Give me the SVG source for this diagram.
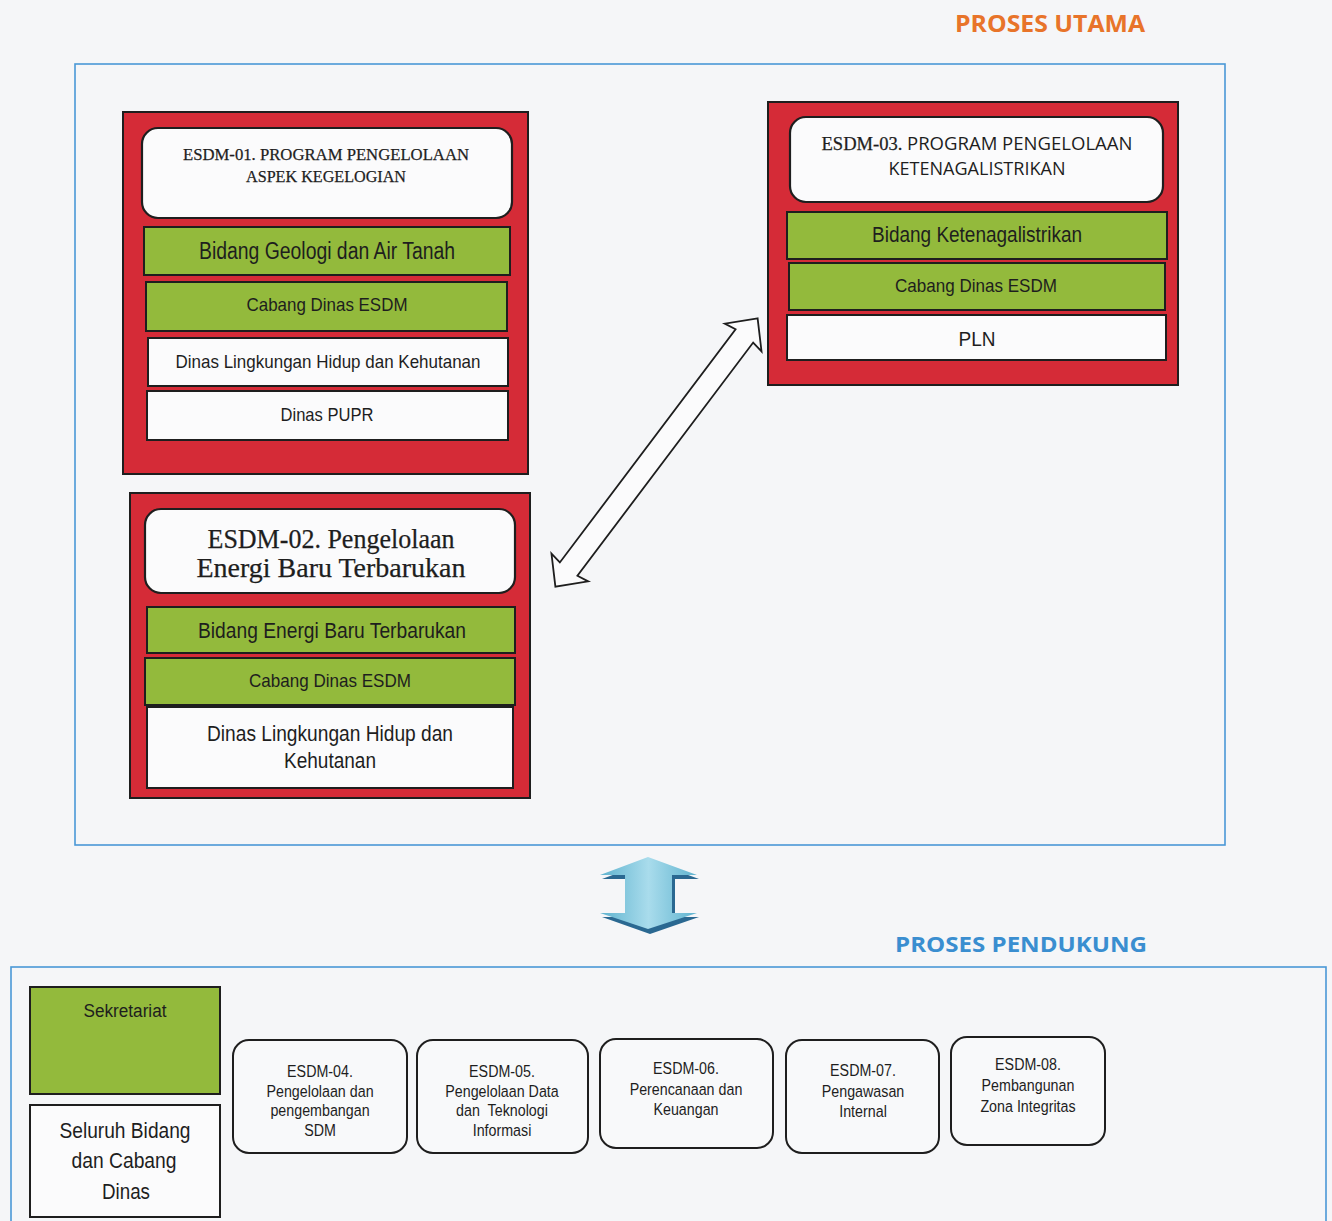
<svg xmlns="http://www.w3.org/2000/svg" width="1332" height="1221" viewBox="0 0 1332 1221">
<defs>
<style>
.bg{fill:#f5f6f8}
.frame{fill:none;stroke:#4a98d6;stroke-width:1.6}
.panel{fill:#d52b37;stroke:#1e1e1e;stroke-width:2}
.title{fill:#fbfbfc;stroke:#1e1e1e;stroke-width:2.2}
.green{fill:#93ba3c;stroke:#1e1e1e;stroke-width:2}
.white{fill:#fbfbfc;stroke:#1e1e1e;stroke-width:2}
.rbox{fill:#f8f9fa;stroke:#1e1e1e;stroke-width:2}
text{text-anchor:middle;fill:#1e1e1e}
.serif{font-family:"Liberation Serif","DejaVu Serif",serif;stroke:#1e1e1e;stroke-width:0.25}
.sans{font-family:"Open Sans","Liberation Sans",sans-serif}
.nar{font-family:"Liberation Sans Narrow","Liberation Sans",Arial,sans-serif}
.small{font-family:"Liberation Sans",Arial,sans-serif;font-size:17px}
.head{font-family:"Open Sans","Lato","Liberation Sans",sans-serif;font-weight:bold}
</style>
<linearGradient id="blueGrad" x1="0" y1="0" x2="1" y2="0">
<stop offset="0" stop-color="#5fb3cf"/>
<stop offset="0.5" stop-color="#a9dcec"/>
<stop offset="1" stop-color="#5fb3cf"/>
</linearGradient>
</defs>
<rect class="bg" x="0" y="0" width="1332" height="1221"/>

<text class="head" x="1050" y="32" font-size="24" style="fill:#e8742a" textLength="190" lengthAdjust="spacingAndGlyphs">PROSES UTAMA</text>
<rect class="frame" x="75" y="64" width="1150" height="781"/>

<g id="node-esdm01">
<rect class="panel" x="123" y="112" width="405" height="362"/>
<rect class="title" x="142" y="128" width="370" height="90" rx="16"/>
<text class="serif" x="326" y="160" font-size="17" textLength="286" lengthAdjust="spacingAndGlyphs">ESDM-01. PROGRAM PENGELOLAAN</text>
<text class="serif" x="326" y="182" font-size="17" textLength="160" lengthAdjust="spacingAndGlyphs">ASPEK KEGELOGIAN</text>
<rect class="green" x="144" y="227" width="366" height="48"/>
<text class="nar" x="327" y="259" font-size="23" textLength="256" lengthAdjust="spacingAndGlyphs">Bidang Geologi dan Air Tanah</text>
<rect class="green" x="146" y="282" width="361" height="49"/>
<text class="nar" x="327" y="311" font-size="19" textLength="161" lengthAdjust="spacingAndGlyphs">Cabang Dinas ESDM</text>
<rect class="white" x="148" y="338" width="360" height="48"/>
<text class="nar" x="328" y="368" font-size="19" textLength="305" lengthAdjust="spacingAndGlyphs">Dinas Lingkungan Hidup dan Kehutanan</text>
<rect class="white" x="147" y="391" width="361" height="49"/>
<text class="nar" x="327" y="421" font-size="19" textLength="93" lengthAdjust="spacingAndGlyphs">Dinas PUPR</text>
</g>

<g id="node-esdm02">
<rect class="panel" x="130" y="493" width="400" height="305"/>
<rect class="title" x="145" y="509" width="370" height="84" rx="16"/>
<text class="serif" x="331" y="548" font-size="27" textLength="247" lengthAdjust="spacingAndGlyphs">ESDM-02. Pengelolaan</text>
<text class="serif" x="331" y="577" font-size="27" textLength="269" lengthAdjust="spacingAndGlyphs">Energi Baru Terbarukan</text>
<rect class="green" x="147" y="607" width="368" height="46"/>
<text class="nar" x="332" y="638" font-size="22" textLength="268" lengthAdjust="spacingAndGlyphs">Bidang Energi Baru Terbarukan</text>
<rect class="green" x="145" y="658" width="370" height="47"/>
<text class="nar" x="330" y="687" font-size="19" textLength="162" lengthAdjust="spacingAndGlyphs">Cabang Dinas ESDM</text>
<rect class="white" x="147" y="707" width="366" height="81"/>
<text class="nar" x="330" y="741" font-size="22" textLength="246" lengthAdjust="spacingAndGlyphs">Dinas Lingkungan Hidup dan</text>
<text class="nar" x="330" y="768" font-size="22" textLength="92" lengthAdjust="spacingAndGlyphs">Kehutanan</text>
</g>

<g id="node-esdm03">
<rect class="panel" x="768" y="102" width="410" height="283"/>
<rect class="title" x="790" y="117" width="373" height="85" rx="16"/>
<text x="977" y="150" font-size="18" textLength="311" lengthAdjust="spacingAndGlyphs"><tspan class="serif">ESDM-03. </tspan><tspan class="sans">PROGRAM PENGELOLAAN</tspan></text>
<text class="sans" x="977" y="175" font-size="18" textLength="177" lengthAdjust="spacingAndGlyphs">KETENAGALISTRIKAN</text>
<rect class="green" x="787" y="212" width="380" height="47"/>
<text class="nar" x="977" y="242" font-size="22" textLength="210" lengthAdjust="spacingAndGlyphs">Bidang Ketenagalistrikan</text>
<rect class="green" x="789" y="263" width="376" height="47"/>
<text class="nar" x="976" y="292" font-size="19" textLength="162" lengthAdjust="spacingAndGlyphs">Cabang Dinas ESDM</text>
<rect class="white" x="787" y="315" width="379" height="45"/>
<text class="nar" x="977" y="346" font-size="21" textLength="37" lengthAdjust="spacingAndGlyphs">PLN</text>
</g>

<g id="connectors">
<polygon points="168,0 144,-23 146,-11 -146,-11 -144,-23 -168,0 -144,23 -146,11 146,11 144,23" transform="translate(656.5,452.5) rotate(-53)" fill="#fbfbfc" stroke="#1e1e1e" stroke-width="1.8" stroke-linejoin="miter"/>
<g id="blue-arrow">
<polygon points="650,861 699,879 675,879 675,917 699,917 650,934 602,917 627,917 627,879 602,879" fill="#2a6891"/>
<polygon points="648,857 697,875 672,875 672,913 697,913 648,929 600,913 625,913 625,875 600,875" fill="url(#blueGrad)"/>
</g>
</g>

<text class="head" x="1021" y="952" font-size="22" style="fill:#3a8ed0" textLength="252" lengthAdjust="spacingAndGlyphs">PROSES PENDUKUNG</text>
<rect class="frame" x="11" y="967" width="1315" height="270"/>

<g id="node-sekretariat">
<rect class="green" x="30" y="987" width="190" height="107"/>
<text class="nar" x="125" y="1017" font-size="18" textLength="83" lengthAdjust="spacingAndGlyphs">Sekretariat</text>
</g>
<g id="node-seluruh">
<rect class="white" x="30" y="1105" width="190" height="112"/>
<text class="nar" x="125" y="1138" font-size="22" textLength="131" lengthAdjust="spacingAndGlyphs">Seluruh Bidang</text>
<text class="nar" x="124" y="1168" font-size="22" textLength="105" lengthAdjust="spacingAndGlyphs">dan Cabang</text>
<text class="nar" x="126" y="1199" font-size="22" textLength="48" lengthAdjust="spacingAndGlyphs">Dinas</text>
</g>

<g id="node-esdm04">
<rect class="rbox" x="233" y="1040" width="174" height="113" rx="16"/>
<g transform="translate(320,0) scale(0.84,1)">
<text class="small" x="0" y="1077">ESDM-04.</text>
<text class="small" x="0" y="1097">Pengelolaan dan</text>
<text class="small" x="0" y="1116">pengembangan</text>
<text class="small" x="0" y="1136">SDM</text>
</g>
</g>
<g id="node-esdm05">
<rect class="rbox" x="417" y="1040" width="171" height="113" rx="16"/>
<g transform="translate(502,0) scale(0.84,1)">
<text class="small" x="0" y="1077">ESDM-05.</text>
<text class="small" x="0" y="1097">Pengelolaan Data</text>
<text class="small" x="0" y="1116" xml:space="preserve">dan  Teknologi</text>
<text class="small" x="0" y="1136">Informasi</text>
</g>
</g>
<g id="node-esdm06">
<rect class="rbox" x="600" y="1039" width="173" height="109" rx="16"/>
<g transform="translate(686,0) scale(0.84,1)">
<text class="small" x="0" y="1074">ESDM-06.</text>
<text class="small" x="0" y="1095">Perencanaan dan</text>
<text class="small" x="0" y="1115">Keuangan</text>
</g>
</g>
<g id="node-esdm07">
<rect class="rbox" x="786" y="1040" width="153" height="113" rx="16"/>
<g transform="translate(863,0) scale(0.84,1)">
<text class="small" x="0" y="1076">ESDM-07.</text>
<text class="small" x="0" y="1097">Pengawasan</text>
<text class="small" x="0" y="1117">Internal</text>
</g>
</g>
<g id="node-esdm08">
<rect class="rbox" x="951" y="1037" width="154" height="108" rx="16"/>
<g transform="translate(1028,0) scale(0.84,1)">
<text class="small" x="0" y="1070">ESDM-08.</text>
<text class="small" x="0" y="1091">Pembangunan</text>
<text class="small" x="0" y="1112">Zona Integritas</text>
</g>
</g>
</svg>
